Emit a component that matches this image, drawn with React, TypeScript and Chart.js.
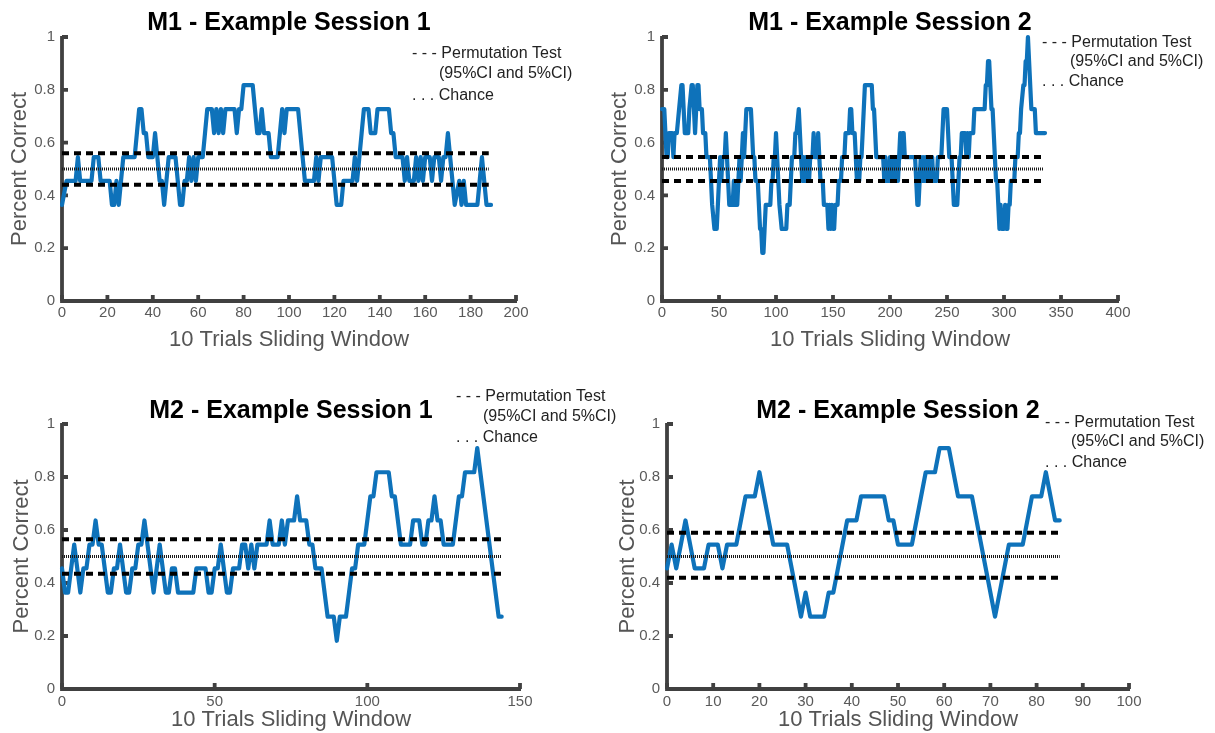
import React, { useEffect, useRef } from "react";
import { Chart, registerables } from "chart.js";

Chart.register(...registerables);

const FONT = '"Liberation Sans", Arial, Helvetica, sans-serif';
const BLUE = "#0E72BA";
const AXIS_COLOR = "#404040";
const TICK_COLOR = "#5a5a5a";
const LABEL_COLOR = "#555555";

type Pt = [number, number];

// ---------- data (x = window index, y = proportion correct) ----------
const m1s1Series: Pt[] = [
  [0,.364],[2,.455],[6,.455],[7,.545],[8,.455],[13,.455],[14,.545],[16,.545],[17,.455],[21,.455],[22,.364],[23,.364],[24,.455],[25,.364],[26,.455],[27,.545],[32,.545],[33,.636],[34,.727],[35,.727],[36,.636],[37,.636],[38,.545],[40,.545],[41,.636],[42,.545],[43,.455],[44,.455],[45,.364],[46,.455],[47,.545],[50,.545],[51,.455],[52,.364],[53,.364],[54,.455],[55,.455],[56,.545],[57,.455],[58,.545],[59,.455],[60,.545],[62,.545],[63,.636],[64,.727],[66,.727],[67,.636],[68,.727],[69,.636],[70,.727],[71,.636],[72,.727],[76,.727],[77,.636],[78,.727],[79,.727],[80,.818],[84,.818],[85,.727],[86,.636],[87,.636],[88,.727],[89,.636],[91,.636],[92,.545],[95,.545],[96,.636],[97,.727],[98,.636],[99,.727],[104,.727],[105,.636],[106,.545],[107,.455],[111,.455],[112,.545],[113,.455],[114,.545],[119,.545],[120,.455],[121,.364],[123,.364],[124,.455],[128,.455],[129,.545],[130,.455],[131,.545],[132,.636],[133,.727],[135,.727],[136,.636],[138,.636],[139,.727],[144,.727],[145,.636],[146,.636],[147,.545],[150,.545],[151,.455],[152,.545],[153,.455],[155,.455],[156,.545],[157,.455],[158,.545],[159,.455],[160,.545],[162,.545],[163,.455],[164,.545],[166,.545],[167,.455],[168,.545],[169,.545],[170,.636],[171,.545],[172,.455],[173,.364],[175,.455],[176,.364],[177,.455],[178,.364],[183,.364],[184,.455],[185,.545],[186,.455],[187,.364],[189,.364]
];

const m1s2Series: Pt[] = [
  [0,.727],[2,.727],[4,.545],[5,.545],[6,.636],[9,.636],[10,.545],[11,.636],[13,.636],[15,.727],[17,.818],[18,.818],[19,.727],[20,.636],[23,.636],[24,.727],[26,.818],[27,.818],[28,.727],[29,.636],[30,.727],[31,.818],[32,.818],[33,.727],[35,.727],[36,.636],[38,.636],[39,.545],[42,.545],[43,.455],[44,.364],[46,.273],[48,.273],[49,.364],[50,.455],[51,.545],[52,.455],[53,.545],[55,.545],[56,.636],[57,.545],[58,.455],[59,.364],[62,.364],[63,.455],[64,.364],[66,.364],[67,.455],[68,.545],[69,.455],[70,.545],[71,.636],[72,.545],[73,.636],[74,.727],[78,.727],[79,.636],[80,.545],[81,.545],[82,.455],[84,.455],[85,.364],[86,.273],[87,.273],[88,.182],[89,.182],[90,.273],[91,.364],[95,.364],[96,.455],[97,.455],[98,.545],[99,.545],[100,.636],[101,.545],[102,.455],[103,.364],[105,.273],[109,.273],[110,.364],[112,.364],[113,.455],[114,.545],[116,.545],[117,.636],[118,.636],[120,.727],[121,.636],[122,.545],[123,.455],[124,.545],[125,.455],[126,.545],[127,.455],[128,.545],[129,.455],[130,.545],[132,.545],[133,.636],[134,.545],[136,.545],[137,.636],[138,.545],[139,.455],[141,.455],[142,.364],[145,.364],[146,.273],[147,.364],[148,.273],[149,.364],[150,.273],[151,.273],[152,.364],[154,.364],[155,.455],[157,.455],[158,.545],[160,.545],[161,.636],[164,.636],[165,.727],[166,.727],[167,.636],[169,.636],[170,.545],[171,.455],[173,.455],[174,.545],[175,.545],[176,.636],[177,.727],[178,.818],[184,.818],[185,.727],[186,.727],[187,.636],[188,.545],[194,.545],[195,.455],[196,.545],[197,.455],[199,.455],[200,.545],[201,.455],[202,.545],[203,.455],[204,.545],[205,.455],[206,.545],[207,.455],[208,.545],[209,.636],[210,.545],[211,.636],[212,.636],[213,.545],[222,.545],[223,.455],[224,.364],[225,.364],[226,.455],[227,.545],[228,.455],[229,.545],[230,.455],[231,.545],[232,.455],[233,.545],[234,.455],[235,.545],[236,.455],[237,.545],[238,.455],[241,.455],[242,.545],[245,.545],[246,.636],[247,.727],[250,.727],[251,.636],[252,.545],[254,.545],[255,.455],[256,.364],[259,.364],[260,.455],[261,.545],[262,.545],[263,.636],[266,.636],[267,.545],[268,.636],[269,.545],[270,.636],[273,.636],[274,.727],[283,.727],[284,.818],[285,.818],[286,.909],[287,.909],[288,.818],[289,.727],[290,.727],[291,.636],[292,.545],[293,.455],[294,.455],[295,.364],[296,.273],[297,.364],[298,.273],[300,.273],[301,.364],[302,.273],[303,.273],[304,.364],[305,.364],[306,.455],[309,.455],[310,.545],[312,.545],[313,.636],[314,.636],[315,.727],[317,.818],[318,.818],[319,.909],[320,.909],[321,1],[322,.909],[323,.818],[324,.727],[327,.727],[328,.636],[336,.636]
];

const m2s1Series: Pt[] = [
  [0,.455],[1,.364],[2,.364],[3,.455],[4,.545],[6,.364],[7,.455],[8,.455],[9,.545],[10,.545],[11,.636],[12,.545],[13,.545],[15,.364],[16,.364],[17,.455],[18,.455],[19,.545],[21,.364],[22,.364],[23,.455],[24,.455],[25,.545],[26,.545],[27,.636],[30,.364],[32,.545],[34,.364],[35,.364],[36,.455],[37,.455],[38,.364],[43,.364],[44,.455],[47,.455],[48,.364],[49,.364],[50,.455],[51,.455],[52,.545],[54,.364],[55,.364],[56,.455],[58,.455],[59,.545],[60,.545],[61,.455],[62,.545],[63,.455],[64,.545],[67,.545],[68,.636],[69,.545],[71,.545],[72,.636],[73,.545],[74,.636],[76,.636],[77,.727],[78,.636],[80,.636],[81,.545],[82,.545],[83,.455],[85,.455],[87,.273],[89,.273],[90,.182],[91,.273],[93,.273],[95,.455],[96,.455],[97,.545],[99,.545],[101,.727],[102,.727],[103,.818],[107,.818],[108,.727],[109,.727],[111,.545],[114,.545],[115,.636],[117,.636],[118,.545],[119,.545],[120,.636],[121,.636],[122,.727],[123,.636],[124,.636],[125,.545],[128,.545],[130,.727],[131,.727],[132,.818],[135,.818],[136,.909],[143,.273],[144,.273]
];

const m2s2Series: Pt[] = [
  [0,.455],[1,.545],[2,.455],[3,.545],[4,.636],[6,.455],[8,.455],[9,.545],[11,.545],[12,.455],[13,.545],[15,.545],[17,.727],[19,.727],[20,.818],[23,.545],[26,.545],[29,.273],[30,.364],[31,.273],[34,.273],[35,.364],[36,.364],[39,.636],[41,.636],[42,.727],[47,.727],[48,.636],[49,.636],[50,.545],[53,.545],[56,.818],[58,.818],[59,.909],[61,.909],[63,.727],[66,.727],[71,.273],[74,.545],[77,.545],[79,.727],[81,.727],[82,.818],[84,.636],[85,.636]
];

// permutation-test bounds [upper, lower], chance level, extent of reference lines
const m1s1Bounds = [0.56, 0.44];
const m1s2Bounds = [0.545, 0.455];
const m2s1Bounds = [0.565, 0.435];
const m2s2Bounds = [0.59, 0.42];
const chanceLevel = 0.5;
const refLineEnds = [188, 335, 144, 85];

// tick labels
const yTickValues = [0, 0.2, 0.4, 0.6, 0.8, 1];
const m1s1XTicks = [0, 20, 40, 60, 80, 100, 120, 140, 160, 180, 200];
const m1s2XTicks = [0, 50, 100, 150, 200, 250, 300, 350, 400];
const m2s1XTicks = [0, 50, 100, 150];
const m2s2XTicks = [0, 10, 20, 30, 40, 50, 60, 70, 80, 90, 100];

const titles = ["M1 - Example Session 1", "M1 - Example Session 2", "M2 - Example Session 1", "M2 - Example Session 2"];
const xAxisTitle = "10 Trials Sliding Window";
const yAxisTitle = "Percent Correct";
const legendLines = ["- - - Permutation Test", "(95%CI and 5%CI)", ". . . Chance"];

interface PanelSpec {
  title: string;
  series: Pt[];
  bounds: number[];
  end: number;
  xTicks: number[];
  box: { left: number; top: number; width: number; height: number };
  area: { left: number; right: number; bottom: number };
  titlePad: { top: number; bottom: number };
  xTitlePad: number;
  yTitlePad: number;
  xTickPad: number;
  legend: { x: number; indent: number; y: number[] };
}

const panels: PanelSpec[] = [
  {
    title: titles[0], series: m1s1Series, bounds: m1s1Bounds, end: refLineEnds[0], xTicks: m1s1XTicks,
    box: { left: 0, top: 0, width: 600, height: 365 },
    area: { left: 62, right: 516, bottom: 301 },
    titlePad: { top: 8, bottom: -1 }, xTitlePad: 12, yTitlePad: 7, xTickPad: 3,
    legend: { x: 412, indent: 27, y: [54, 74, 96] },
  },
  {
    title: titles[1], series: m1s2Series, bounds: m1s2Bounds, end: refLineEnds[1], xTicks: m1s2XTicks,
    box: { left: 600, top: 0, width: 615, height: 365 },
    area: { left: 62, right: 518, bottom: 301 },
    titlePad: { top: 8, bottom: -1 }, xTitlePad: 12, yTitlePad: 7, xTickPad: 3,
    legend: { x: 442, indent: 28, y: [43, 62, 82] },
  },
  {
    title: titles[2], series: m2s1Series, bounds: m2s1Bounds, end: refLineEnds[2], xTicks: m2s1XTicks,
    box: { left: 0, top: 365, width: 640, height: 368 },
    area: { left: 62, right: 520, bottom: 324 },
    titlePad: { top: 31, bottom: -2 }, xTitlePad: 0, yTitlePad: 9, xTickPad: 4,
    legend: { x: 456, indent: 27, y: [32, 52, 73] },
  },
  {
    title: titles[3], series: m2s2Series, bounds: m2s2Bounds, end: refLineEnds[3], xTicks: m2s2XTicks,
    box: { left: 600, top: 365, width: 615, height: 368 },
    area: { left: 67, right: 529, bottom: 324 },
    titlePad: { top: 31, bottom: -2 }, xTitlePad: 0, yTitlePad: 15, xTickPad: 4,
    legend: { x: 445, indent: 26, y: [58, 77, 98] },
  },
];

function Panel({ spec }: { spec: PanelSpec }) {
  const ref = useRef<HTMLCanvasElement | null>(null);

  useEffect(() => {
    const canvas = ref.current;
    if (!canvas) return;
    const { box, area } = spec;

    const axesPlugin = {
      id: "matlabAxes",
      beforeDatasetsDraw(chart: any) {
        const { ctx, chartArea, scales } = chart;
        const { left, right, top, bottom } = chartArea;
        ctx.save();
        ctx.strokeStyle = AXIS_COLOR;
        ctx.lineWidth = 3.8;
        ctx.lineJoin = "miter";
        ctx.lineCap = "butt";
        ctx.beginPath();
        ctx.moveTo(left, top - 1);
        ctx.lineTo(left, bottom);
        ctx.lineTo(right + 1, bottom);
        ctx.stroke();
        ctx.beginPath();
        scales.y.ticks.forEach((t: any) => {
          const py = scales.y.getPixelForValue(t.value);
          ctx.moveTo(left, py);
          ctx.lineTo(left + 6, py);
        });
        scales.x.ticks.forEach((t: any) => {
          const px = scales.x.getPixelForValue(t.value);
          ctx.moveTo(px, bottom);
          ctx.lineTo(px, bottom - 6);
        });
        ctx.stroke();
        ctx.restore();
      },
    };

    const legendPlugin = {
      id: "textLegend",
      afterDraw(chart: any) {
        const ctx = chart.ctx;
        const { x, indent, y } = spec.legend;
        ctx.save();
        ctx.font = `16px ${FONT}`;
        ctx.fillStyle = "#222";
        ctx.textAlign = "left";
        ctx.textBaseline = "middle";
        ctx.fillText(legendLines[0], x, y[0]);
        ctx.fillText(legendLines[1], x + indent, y[1]);
        ctx.fillText(legendLines[2], x, y[2]);
        ctx.restore();
      },
    };

    const hLine = (v: number) => [{ x: 0, y: v }, { x: spec.end, y: v }];

    const chart = new Chart(canvas, {
      type: "line",
      data: {
        datasets: [
          { data: hLine(spec.bounds[0]), borderColor: "#000", borderWidth: 4, borderDash: [7, 5], pointRadius: 0, order: 0, clip: false } as any,
          { data: hLine(spec.bounds[1]), borderColor: "#000", borderWidth: 4, borderDash: [7, 5], pointRadius: 0, order: 0, clip: false } as any,
          { data: hLine(chanceLevel), borderColor: "#1a1a1a", borderWidth: 3, borderDash: [1, 1], pointRadius: 0, order: 0, clip: false } as any,
          {
            data: spec.series.map(([x, y]) => ({ x, y })),
            borderColor: BLUE, borderWidth: 4.2, pointRadius: 0, order: 1, clip: false,
            borderJoinStyle: "round", borderCapStyle: "round", tension: 0,
          } as any,
        ],
      },
      options: {
        animation: false,
        responsive: false,
        devicePixelRatio: 1,
        events: [],
        layout: { padding: { left: 0, right: box.width - area.right, top: 0, bottom: 0 }, autoPadding: false } as any,
        plugins: {
          legend: { display: false },
          tooltip: { enabled: false },
          title: {
            display: true, text: spec.title, fullSize: false, color: "#000",
            font: { family: FONT, size: 25, weight: "bold", lineHeight: 1.2 },
            padding: spec.titlePad,
          } as any,
        },
        scales: {
          x: {
            type: "linear", min: 0, max: spec.xTicks[spec.xTicks.length - 1],
            afterBuildTicks: (s: any) => { s.ticks = spec.xTicks.map((v) => ({ value: v })); },
            afterFit: (s: any) => { s.height = box.height - area.bottom; },
            ticks: {
              autoSkip: false, maxRotation: 0, minRotation: 0, color: TICK_COLOR,
              font: { family: FONT, size: 15 }, padding: spec.xTickPad,
              callback: (v: any) => String(v),
            },
            grid: { display: false, drawTicks: false },
            border: { display: false },
            title: {
              display: true, text: xAxisTitle, color: LABEL_COLOR,
              font: { family: FONT, size: 22 }, padding: { top: 0, bottom: spec.xTitlePad },
            },
          } as any,
          y: {
            type: "linear", min: 0, max: 1,
            afterBuildTicks: (s: any) => { s.ticks = yTickValues.map((v) => ({ value: v })); },
            afterFit: (s: any) => { s.width = area.left; },
            ticks: {
              color: TICK_COLOR, font: { family: FONT, size: 15 }, padding: 7,
              callback: (v: any) => String(Math.round(Number(v) * 10) / 10),
            },
            grid: { display: false, drawTicks: false },
            border: { display: false },
            title: {
              display: true, text: yAxisTitle, color: LABEL_COLOR,
              font: { family: FONT, size: 22 }, padding: { top: spec.yTitlePad, bottom: 0 },
            },
          } as any,
        },
      },
      plugins: [axesPlugin, legendPlugin],
    });

    return () => chart.destroy();
  }, [spec]);

  const { box } = spec;
  return (
    <canvas
      ref={ref}
      width={box.width}
      height={box.height}
      style={{ position: "absolute", left: box.left, top: box.top, width: box.width, height: box.height }}
    />
  );
}

export default function App() {
  return (
    <div style={{ position: "fixed", left: 0, top: 0, width: 1215, height: 733, background: "#fff", overflow: "hidden" }}>
      {panels.map((p, i) => (
        <Panel key={i} spec={p} />
      ))}
    </div>
  );
}
